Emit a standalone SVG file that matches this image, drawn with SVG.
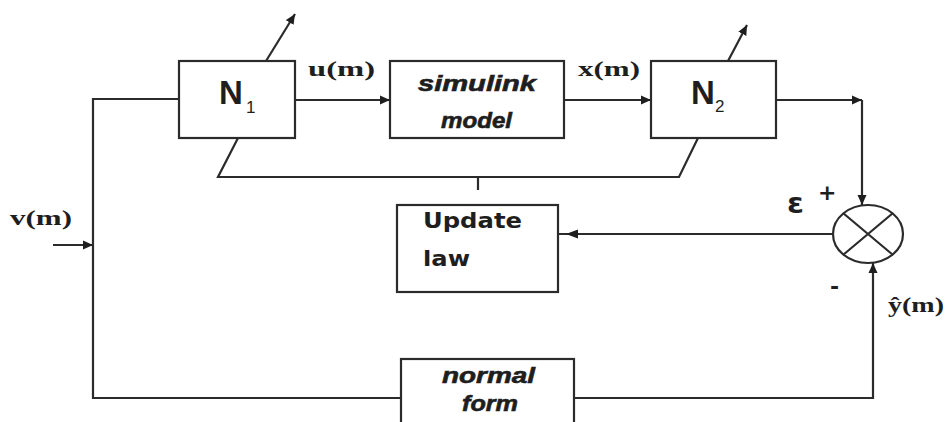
<svg xmlns="http://www.w3.org/2000/svg" width="945" height="422" viewBox="0 0 945 422">
<style>
.box{fill:#fff;stroke:#2b2b2b;stroke-width:2.2}
.ln{fill:none;stroke:#2b2b2b;stroke-width:2.2}
.big{font-family:"Liberation Sans",Arial,sans-serif;font-weight:bold;font-size:33px;fill:#1e1e1e}
.sub{font-family:"Liberation Sans",Arial,sans-serif;font-size:17px;fill:#1e1e1e}
.it{font-family:"Liberation Sans",Arial,sans-serif;font-weight:bold;font-style:italic;font-size:22px;fill:#1e1e1e;stroke:#1e1e1e;stroke-width:0.6}
.bd{font-family:"DejaVu Sans",sans-serif;font-weight:bold;font-size:22px;fill:#1e1e1e}
.sig{font-family:"Liberation Serif","Times New Roman",serif;font-weight:bold;font-size:20px;fill:#1e1e1e}
.sym{font-family:"DejaVu Sans",sans-serif;font-weight:bold;fill:#1e1e1e}
</style>
<defs>
<marker id="ah" viewBox="0 0 10 10" refX="10" refY="5" markerWidth="10" markerHeight="10" markerUnits="userSpaceOnUse" orient="auto">
<path d="M0,0.5 L10,5 L0,9.5 Z" fill="#1e1e1e"/>
</marker>
</defs>
<rect width="945" height="422" fill="#fff"/>
<g id="connectors">
<path class="ln" d="M53,245 H93" marker-end="url(#ah)"/>
<path class="ln" d="M179,99 H93 V398 H401"/>
<path class="ln" d="M295,100 H390" marker-end="url(#ah)"/>
<path class="ln" d="M564,100 H651" marker-end="url(#ah)"/>
<path class="ln" d="M776,100 H862" marker-end="url(#ah)"/>
<path class="ln" d="M862,100 V205" marker-end="url(#ah)"/>
<path class="ln" d="M266,61 L295,14" marker-end="url(#ah)"/>
<path class="ln" d="M728,61 L747,25" marker-end="url(#ah)"/>
<path class="ln" d="M238,138 L218,177 H679 L698,138"/>
<path class="ln" d="M478,177 V190"/>
<path class="ln" d="M834,234 H559"/>
<path d="M566,234 L578,229.5 L578,238.5 Z" fill="#1e1e1e"/>
<path class="ln" d="M574,398 H873 V263" marker-end="url(#ah)"/>
</g>
<g id="N1">
<rect class="box" x="179" y="61" width="116" height="77"/>
<text class="big" x="219" y="104">N</text>
<text class="sub" x="246" y="113">1</text>
</g>
<g id="simulink">
<rect class="box" x="390" y="61" width="174" height="77"/>
<text class="it" x="418" y="91" textLength="118" lengthAdjust="spacingAndGlyphs">simulink</text>
<text class="it" x="441" y="128" textLength="71" lengthAdjust="spacingAndGlyphs">model</text>
</g>
<g id="N2">
<rect class="box" x="651" y="61" width="125" height="77"/>
<text class="big" x="691" y="104">N</text>
<text class="sub" x="715" y="112">2</text>
</g>
<g id="update">
<rect class="box" x="397" y="205" width="161" height="87"/>
<text class="bd" x="423" y="228" textLength="99" lengthAdjust="spacingAndGlyphs">Update</text>
<text class="bd" x="423" y="266" textLength="47" lengthAdjust="spacingAndGlyphs">law</text>
</g>
<g id="normal">
<rect class="box" x="401" y="359" width="173" height="80"/>
<text class="it" x="442" y="383" textLength="93" lengthAdjust="spacingAndGlyphs">normal</text>
<text class="it" x="462" y="411" textLength="56" lengthAdjust="spacingAndGlyphs">form</text>
</g>
<g id="sum">
<ellipse class="box" cx="868" cy="234" rx="35" ry="29"/>
<path class="ln" d="M843,213 L893,255 M843,255 L893,213"/>
</g>
<g id="labels">
<text class="sig" x="308" y="76" textLength="67" lengthAdjust="spacingAndGlyphs">u(m)</text>
<text class="sig" x="578" y="76" textLength="62" lengthAdjust="spacingAndGlyphs">x(m)</text>
<text class="sig" x="10" y="225" textLength="62" lengthAdjust="spacingAndGlyphs">v(m)</text>
<text class="sym" x="787" y="213" style="font-size:28px" textLength="17" lengthAdjust="spacingAndGlyphs">ε</text>
<text class="sym" x="818" y="200" style="font-size:22px">+</text>
<text class="sym" x="830" y="294" style="font-size:22px">-</text>
<text class="sig" x="888" y="312" textLength="56" lengthAdjust="spacingAndGlyphs">ŷ(m)</text>
</g>
</svg>
